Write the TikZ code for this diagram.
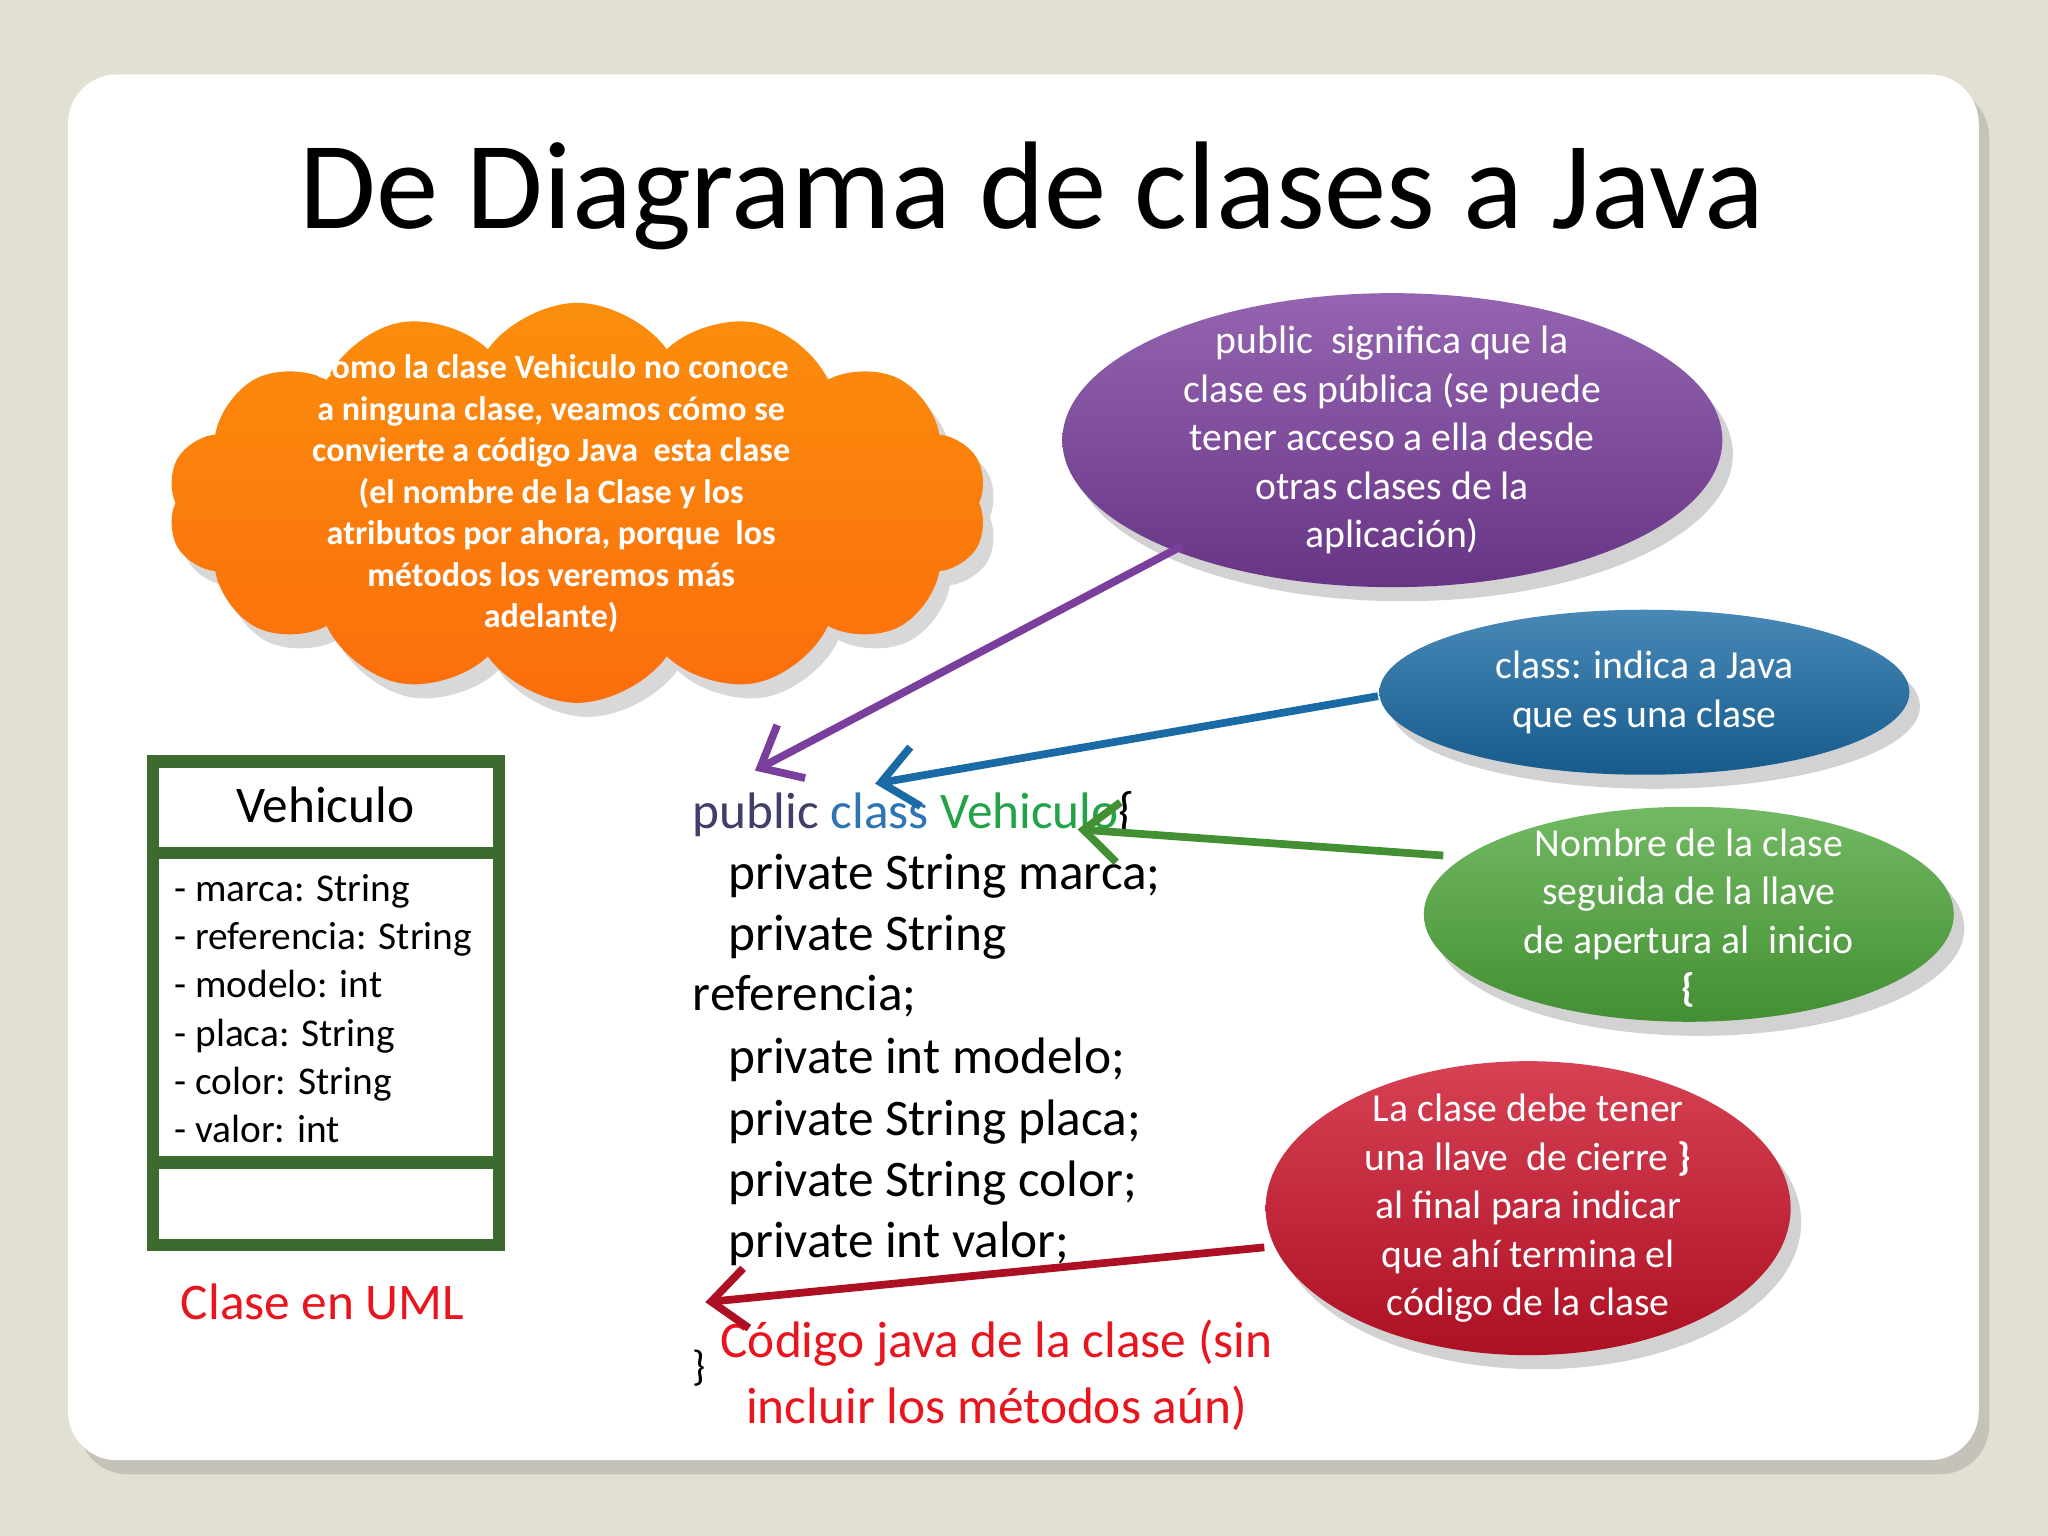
\documentclass[tikz,border=0pt]{standalone}
\usepackage{fontspec}
\setmainfont{Carlito}
\usetikzlibrary{shapes.geometric,shapes.symbols,shadows,arrows.meta}
\definecolor{bgc}{HTML}{E2DFD3}
\definecolor{purp}{HTML}{7A3E9D}
\definecolor{bluee}{HTML}{1A6BA5}
\definecolor{greene}{HTML}{4FA83C}
\definecolor{rede}{HTML}{CC1229}
\definecolor{orng}{HTML}{FA7A0E}
\definecolor{umlg}{HTML}{3D6B2F}
\definecolor{pubc}{HTML}{3F3F6A}
\definecolor{clsc}{HTML}{2E75B6}
\definecolor{vehc}{HTML}{22A347}
\definecolor{redt}{HTML}{E8141E}
\tikzset{
 bubble/.style={ellipse,inner sep=0,drop shadow={opacity=0.35,shadow xshift=3pt,shadow yshift=-4pt}},
 btext/.style={text=white,align=center,inner sep=0,font=\fontsize{11.3}{13.8}\selectfont},
 arr/.style={line width=2.2pt,-{Straight Barb[length=3.5mm,width=6mm,line width=2.2pt]}},
 codel/.style={anchor=base west,inner sep=0,font=\fontsize{14.6}{19}\selectfont},
 umlt/.style={anchor=base west,inner sep=0,font=\fontsize{11.2}{15}\selectfont}
}
\begin{document}
\begin{tikzpicture}[x=0.013061cm,y=-0.013061cm]
\fill[bgc] (0,0) rectangle (1568,1176);
\useasboundingbox (0,0) rectangle (1568,1176);
\fill[white,rounded corners=14pt,drop shadow={opacity=0.3,shadow xshift=3pt,shadow yshift=-4pt}] (52,57) rectangle (1515,1118);
\node[font=\fontsize{35.5}{40}\selectfont] (title) at (790,150) {De Diagrama de clases a Java};
% cloud
\node[cloud,cloud puffs=14,cloud puff arc=110,aspect=2,minimum width=8.2cm,minimum height=4.0cm,top color=orng!85!yellow,bottom color=orng!90!red,drop shadow={opacity=0.3,shadow xshift=3pt,shadow yshift=-4pt}] (cloud) at (442,385) {};
\node[text=white,align=center,font=\bfseries\fontsize{9.7}{11.8}\selectfont] (cloudt) at (422,378) {Como la clase Vehiculo no conoce\\a ninguna clase, veamos cómo se\\convierte a código Java\ \ esta clase\\(el nombre de la Clase y los\\atributos por ahora, porque\ \ los\\métodos los veremos más\\adelante)};
% ellipses
\node[bubble,minimum width=6.6cm,minimum height=2.94cm,top color=purp!80!white,bottom color=purp!85!black] (pub) at (1066,337) {};
\node[btext] (pubt) at (1066,337) {public\ \ significa que la\\clase es pública (se puede\\tener acceso a ella desde\\otras clases de la\\aplicación)};
\node[bubble,minimum width=5.3cm,minimum height=1.65cm,top color=bluee!80!white,bottom color=bluee!85!black] (cls) at (1259,530) {};
\node[btext] (clst) at (1259,530) {class: indica a Java\\que es una clase};
\node[bubble,minimum width=5.3cm,minimum height=2.15cm,top color=greene!80!white,bottom color=greene!85!black] (nom) at (1293,700) {};
\node[btext] (nomt) at (1293,703) {Nombre de la clase\\seguida de la llave\\de apertura al\ \ inicio\\\textbf{\{}};
\node[bubble,minimum width=5.25cm,minimum height=2.94cm,top color=rede!80!white,bottom color=rede!85!black] (cie) at (1170,925) {};
\node[btext] (ciet) at (1170,925) {La clase debe tener\\una llave\ \ de cierre \textbf{\}}\\al final para indicar\\que ahí termina el\\código de la clase};
% UML box
\draw[umlg,line width=3.5pt] (117,583) rectangle (382,953);
\draw[umlg,line width=3.5pt] (117,653) -- (382,653);
\draw[umlg,line width=3.5pt] (117,890) -- (382,890);
\node[font=\fontsize{14.6}{19}\selectfont] (vname) at (249,616) {Vehiculo};
\node[umlt] (a1) at (133,690) {- marca: String};
\node[umlt] (a2) at (133,727) {- referencia: String};
\node[umlt] (a3) at (133,764) {- modelo: int};
\node[umlt] (a4) at (133,801) {- placa: String};
\node[umlt] (a5) at (133,838) {- color: String};
\node[umlt] (a6) at (133,875) {- valor: int};
\node[text=redt,font=\fontsize{14.6}{19}\selectfont] (uml) at (247,997) {Clase en UML};
% code
\node[codel] (c1) at (530,634) {\textcolor{pubc}{public} \textcolor{clsc}{class} \textcolor{vehc}{Vehiculo}\{};
\node[codel] (c2) at (557,681) {private String marca;};
\node[codel] (c3) at (557,728) {private String};
\node[codel] (c4) at (530,774) {referencia;};
\node[codel] (c5) at (557,822) {private int modelo;};
\node[codel] (c6) at (557,869) {private String placa;};
\node[codel] (c7) at (557,916) {private String color;};
\node[codel] (c8) at (557,963) {private int valor;};
\node[codel,font=\fontsize{12}{14}\selectfont] (c9) at (530,1057) {\}};
\node[text=redt,align=center,font=\fontsize{14.6}{19}\selectfont] (cod) at (763,1053) {Código java de la clase (sin\\incluir los métodos aún)};
% arrows
\coordinate (pa) at (905,418); \coordinate (pb) at (578,590);
\coordinate (ba) at (1055,533); \coordinate (bb) at (670,600);
\coordinate (ga) at (1105,655); \coordinate (gb) at (825,635);
\coordinate (ra) at (968,955); \coordinate (rb) at (540,997);
\draw[arr,purp] (pa) -- (pb);
\draw[arr,bluee] (ba) -- (bb);
\draw[arr,greene!85!black] (ga) -- (gb);
\draw[arr,rede!85!black] (ra) -- (rb);
\end{tikzpicture}
\end{document}
